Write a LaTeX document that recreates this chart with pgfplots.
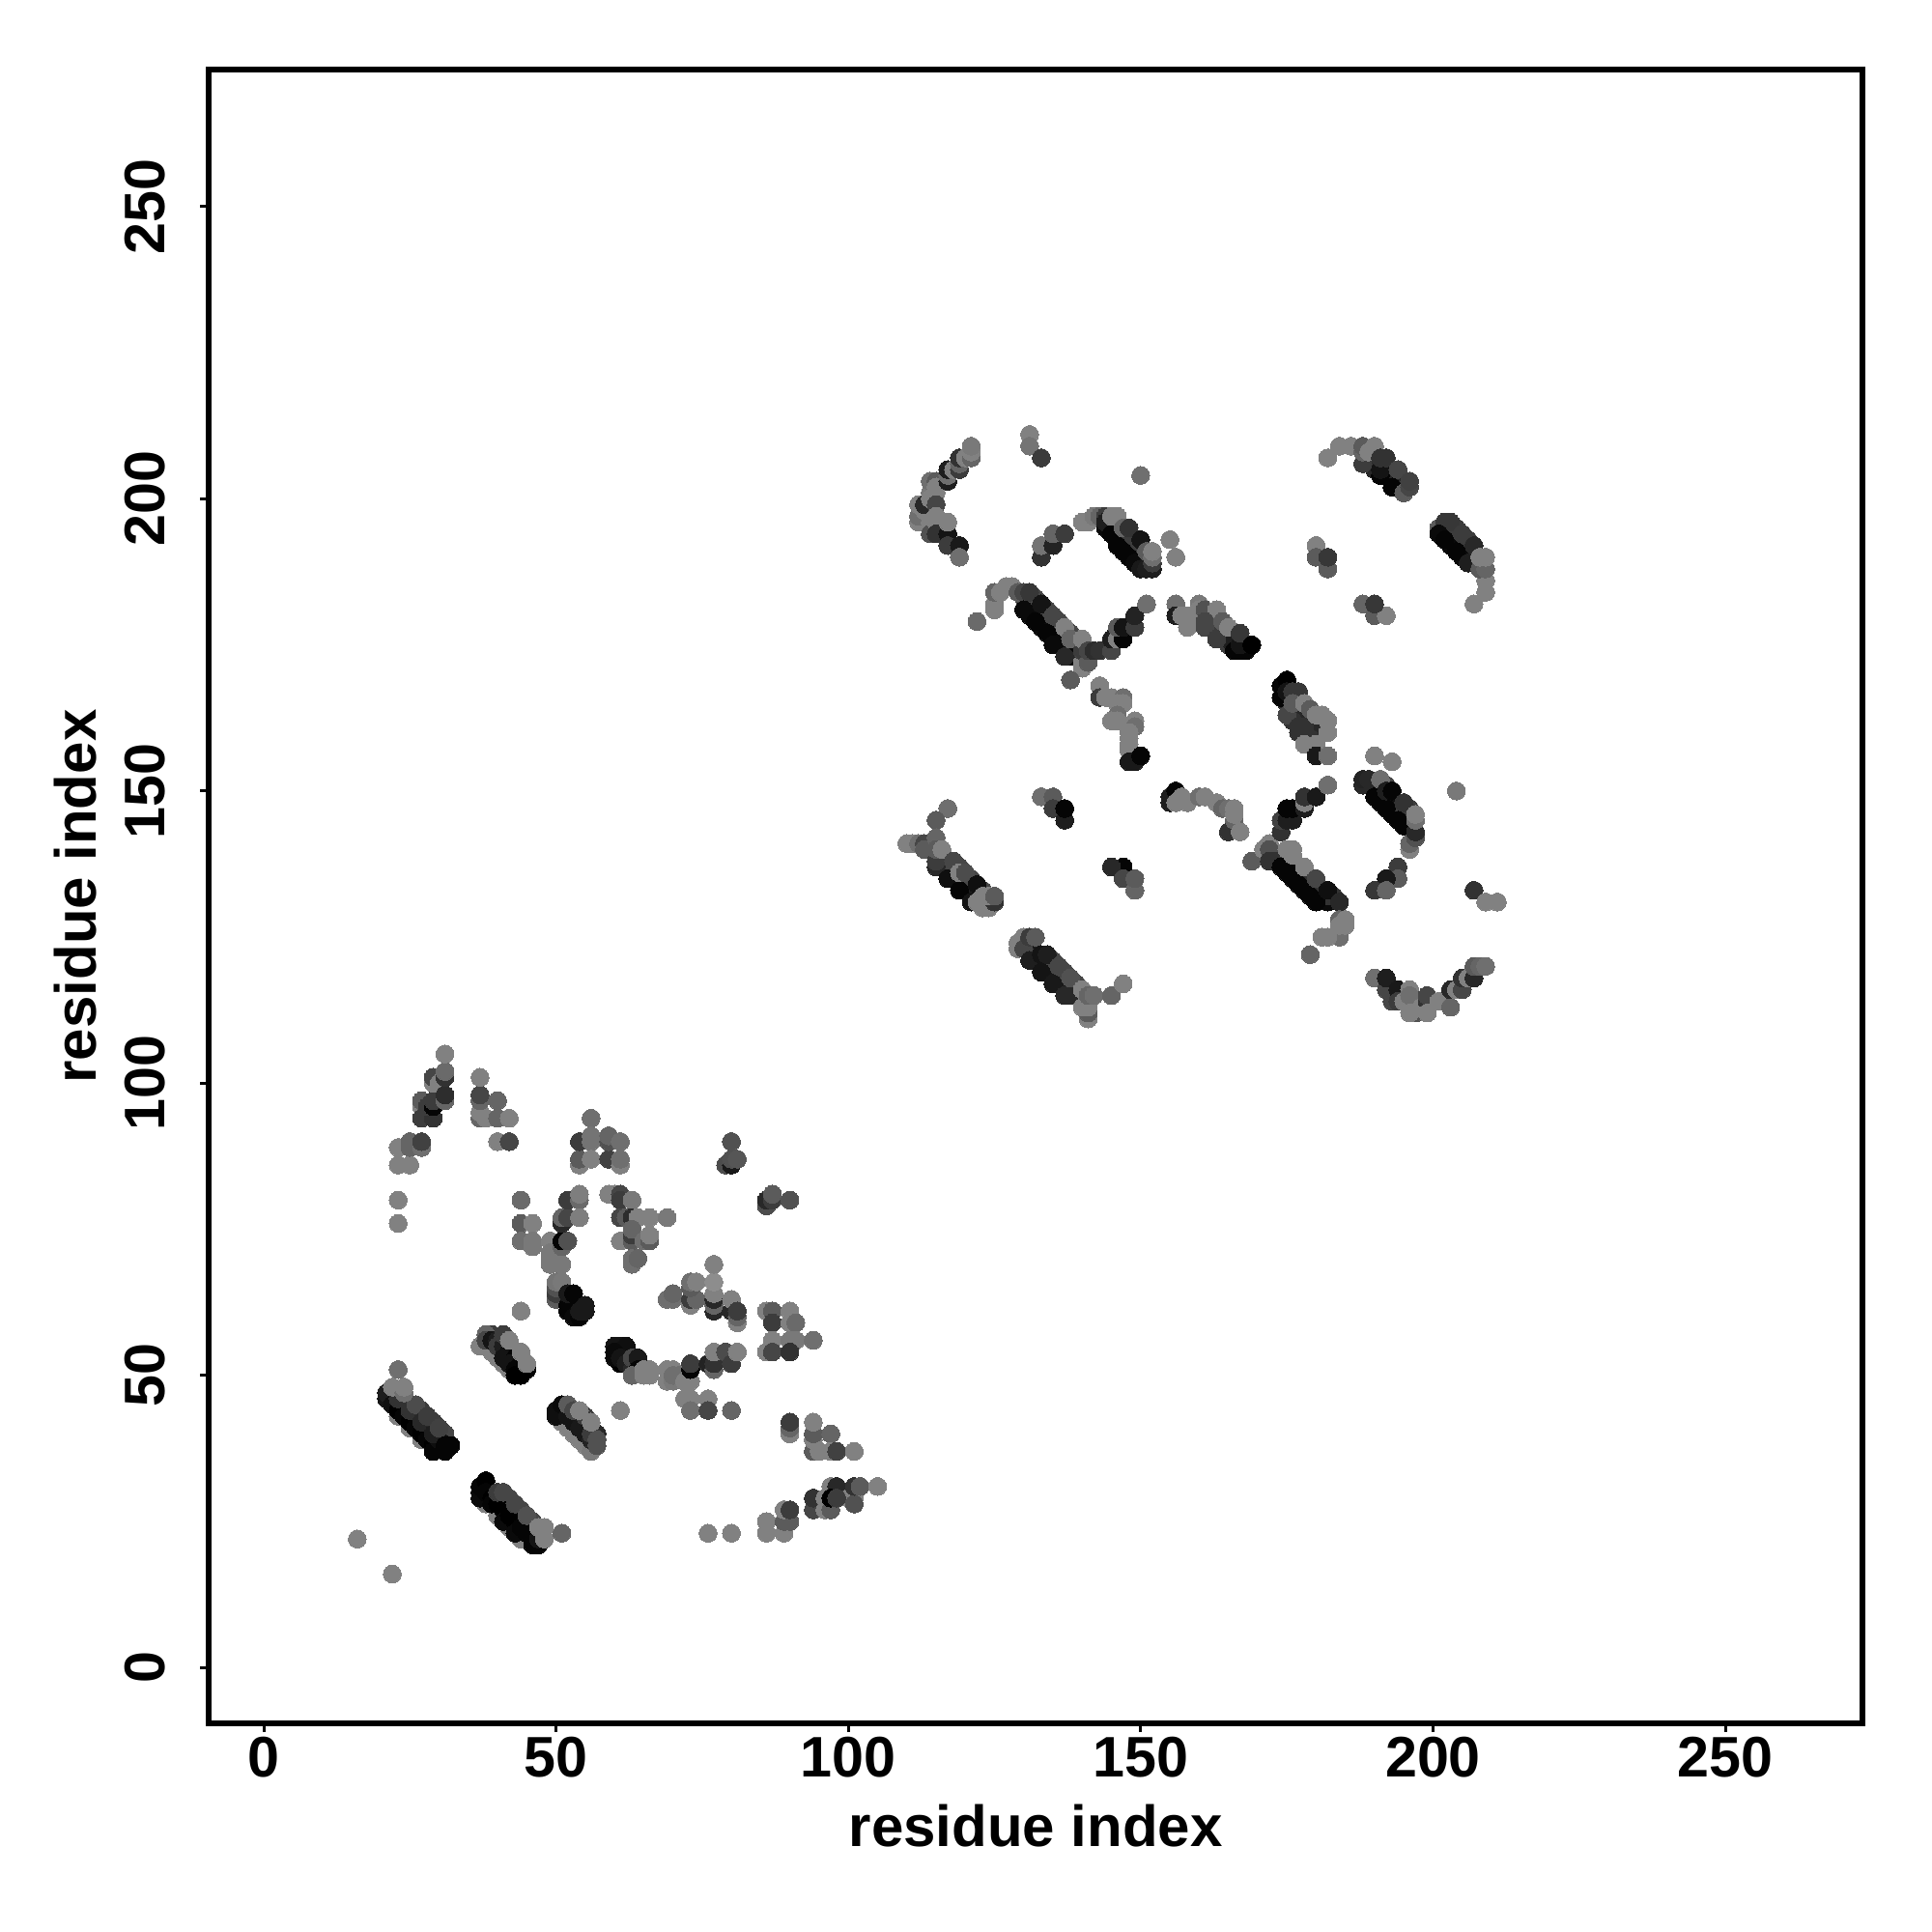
\documentclass[border=0pt]{standalone}
\usepackage{pgfplots}
\pgfplotsset{compat=1.18}
\usepackage{fontspec}
\setmainfont{Liberation Sans}

\begin{document}
\begin{tikzpicture}
% page is 2000 px square, 1 px = 0.25pt, origin at lower left of the frame
\useasboundingbox (-54.075pt,-54pt) rectangle (445.925pt,446pt);
\begin{axis}[
    scale only axis,
    width=428pt, height=428pt,
    xmin=-9.37, xmax=273.5,
    ymin=-9.54, ymax=273.45,
    xtick={0,50,100,150,200,250},
    ytick={0,50,100,150,200,250},
    xtick pos=bottom, ytick pos=left,
    tick align=outside,
    major tick length=2.3pt,
    tick style={black, line width=0.75pt},
    axis line style={line width=1.55pt},
    every tick label/.append style={font=\fontsize{14.8}{18}\selectfont\bfseries},
    /pgf/number format/assume math mode=true,
    xticklabel style={anchor=base, yshift=-11.45pt},
    yticklabel style={xshift=-9.1pt, rotate=90, anchor=base},
    xlabel={residue index},
    ylabel={residue index},
    label style={font=\fontsize{15}{18}\selectfont\bfseries},
    xlabel style={at={(axis description cs:0.5,-0.0742)}, anchor=base},
    ylabel style={at={(axis description cs:-0.0682,0.5)}, anchor=base},
    colormap/blackwhite,
    point meta min=0, point meta max=255,
]
% x y gray, in drawing order
\addplot[scatter, only marks, mark=*, mark size=2.32pt,
    point meta=explicit,
    mark options={line width=0pt},
    scatter/use mapped color={draw=mapped color, fill=mapped color}]
  table[row sep=crcr, x=x, y=y, meta=g] {
x y g\\
22 46 40\\ 23 45 40\\ 24 45 40\\ 24 44 30\\ 25 43 30\\ 26 43 40\\ 26 42 30\\ 27 41 30\\ 28 42 40\\ 28 41 30\\ 29 39 20\\ 30 40 40\\ 29 41 50\\ 27 44 60\\ 29 42 60\\ 31 40 70\\ 25 45 60\\
38 31 10\\ 39 30 10\\ 40 29 10\\ 41 28 10\\ 42 27 10\\ 43 26 10\\ 44 25 10\\ 45 24 10\\ 46 23 10\\ 42 29 70\\ 44 27 70\\ 46 25 70\\ 42 28 50\\ 44 26 50\\ 46 24 50\\
41 54 20\\ 42 53 20\\ 43 52 20\\ 44 51 20\\ 39 57 60\\ 42 55 60\\ 43 54 60\\
51 44 40\\ 52 44 40\\ 53 43 40\\ 54 42 40\\ 55 41 40\\ 56 40 40\\ 57 40 40\\ 51 43 30\\ 52 42 30\\ 53 41 30\\ 54 40 30\\ 55 39 30\\
131 123 30\\ 132 122 30\\ 133 121 30\\ 134 120 30\\ 135 119 30\\ 136 118 30\\ 137 117 30\\ 138 116 30\\ 131 122 25\\ 132 121 25\\ 133 120 25\\ 134 119 25\\ 135 118 25\\ 136 117 25\\ 137 116 25\\ 135 121 70\\ 137 119 70\\ 139 117 70\\
115 139 30\\ 116 137 30\\ 117 136 30\\ 118 135 30\\ 119 134 30\\ 120 133 30\\ 121 132 30\\ 122 132 30\\ 117 138 70\\ 119 137 70\\ 121 135 70\\ 123 133 70\\
131 182 10\\ 132 181 10\\ 133 180 10\\ 134 179 10\\ 135 178 10\\ 136 177 10\\ 137 176 10\\ 138 175 10\\ 139 174 10\\ 130 183 70\\ 132 183 70\\ 134 181 70\\ 136 179 70\\ 138 177 70\\ 139 176 70\\ 131 180 10\\ 133 178 10\\ 135 176 10\\ 136 175 10\\ 137 174 10\\ 138 173 10\\
145 195 10\\ 146 194 10\\ 147 193 10\\ 148 192 10\\ 149 191 10\\ 150 190 10\\ 151 189 10\\ 146 193 5\\ 147 192 5\\ 148 191 5\\ 149 190 5\\ 150 189 5\\ 146 196 60\\ 148 194 60\\ 150 192 60\\ 149 193 60\\
162 180 60\\ 163 179 60\\ 164 178 60\\ 165 177 60\\ 166 176 60\\ 167 176 60\\ 162 178 60\\ 163 177 60\\ 164 176 60\\ 165 175 60\\ 165 176 30\\
175 165 40\\ 176 164 40\\ 177 163 40\\ 178 162 40\\ 179 161 40\\ 180 160 40\\ 176 162 50\\ 178 161 50\\ 179 159 50\\ 177 160 50\\
175 138 10\\ 176 137 10\\ 177 136 10\\ 178 135 10\\ 179 134 10\\ 180 133 10\\ 181 132 10\\ 182 131 10\\ 176 139 50\\ 178 136 50\\ 180 134 50\\ 182 132 50\\ 183 132 50\\
190 151 15\\ 191 150 15\\ 192 149 15\\ 193 148 15\\ 194 147 15\\ 195 146 15\\ 196 145 15\\ 191 148 5\\ 193 146 5\\ 195 144 5\\ 196 147 60\\ 195 147 60\\ 192 151 70\\
189 206 40\\ 190 205 40\\ 192 204 40\\ 193 203 40\\ 194 202 40\\ 192 206 40\\ 193 205 40\\ 195 203 40\\ 192 205 40\\
202 195 40\\ 203 194 40\\ 204 193 40\\ 205 192 40\\ 206 191 40\\ 207 190 40\\ 203 192 10\\ 205 190 10\\ 204 195 60\\ 206 193 60\\
16 22 128\\ 22 16 128\\ 23 51 110\\
23 89 128\\ 23 86 128\\ 25 86 128\\ 25 90 100\\ 25 89 100\\ 27 89 110\\ 27 90 65\\ 23 80 128\\ 23 76 128\\
27 96 128\\ 27 97 90\\ 27 94 60\\ 29 94 50\\ 28 96 60\\ 29 96 5\\ 29 97 60\\ 29 100 128\\ 29 101 70\\ 30 100 128\\ 31 97 100\\ 31 98 45\\ 31 101 50\\ 31 102 105\\ 31 105 128\\
37 94 100\\ 37 95 128\\ 38 94 128\\ 37 97 100\\ 37 98 70\\ 37 101 128\\ 40 97 100\\ 40 94 100\\ 42 94 128\\ 40 90 128\\ 42 90 70\\
44 80 105\\ 44 76 90\\ 46 76 128\\ 44 73 110\\ 46 72 120\\ 46 73 120\\ 44 61 128\\
49 73 128\\ 49 71 120\\ 49 70 120\\ 50 70 120\\ 49 69 120\\ 51 69 120\\ 51 72 100\\ 51 73 5\\ 52 73 80\\ 51 76 40\\ 51 77 100\\ 52 77 70\\ 52 80 60\\ 54 80 105\\ 54 81 125\\ 54 77 125\\
50 63 90\\ 50 64 60\\ 50 65 80\\ 50 66 115\\ 51 66 120\\ 52 61 5\\ 52 62 5\\ 52 64 25\\ 53 64 5\\ 53 60 10\\ 54 60 5\\ 54 61 25\\ 55 61 25\\ 55 62 25\\
54 86 128\\ 54 87 90\\ 54 90 60\\ 56 94 110\\ 56 90 115\\ 56 91 115\\ 56 87 128\\ 59 87 65\\ 59 90 80\\ 59 91 100\\ 61 90 110\\ 61 86 128\\ 61 87 110\\
59 81 128\\ 60 81 128\\ 61 81 70\\ 61 80 60\\ 63 80 120\\
61 77 70\\ 62 77 90\\ 63 77 45\\ 64 77 128\\ 66 77 128\\ 69 77 120\\ 61 73 128\\ 63 73 90\\ 63 74 60\\ 63 75 100\\ 65 73 110\\ 66 73 90\\ 66 74 128\\ 63 69 110\\ 63 70 110\\ 64 70 100\\
69 63 110\\ 70 63 110\\ 70 64 100\\ 73 62 128\\ 73 63 60\\ 74 63 100\\ 73 65 90\\ 73 66 110\\ 74 66 128\\ 77 61 40\\ 77 62 100\\ 77 63 40\\ 77 64 128\\ 77 66 140\\ 77 69 128\\ 80 61 40\\ 80 63 128\\ 81 59 128\\ 81 60 100\\ 81 61 60\\
86 61 128\\ 87 61 90\\ 90 61 128\\ 87 59 60\\ 90 59 128\\ 91 59 105\\ 87 56 128\\ 90 56 120\\ 91 56 120\\ 94 56 110\\ 86 54 128\\ 87 54 70\\ 90 54 50\\
79 86 75\\ 80 86 25\\ 80 87 80\\ 81 87 85\\ 80 90 80\\ 86 79 75\\ 86 80 40\\ 87 80 60\\ 87 81 90\\ 90 80 80\\
37 55 128\\ 38 55 128\\ 39 54 128\\ 40 53 128\\ 41 52 128\\ 42 51 128\\ 38 57 100\\ 38 56 70\\ 39 56 20\\ 40 56 30\\ 40 55 60\\ 41 55 30\\ 41 57 60\\ 42 54 15\\ 41 53 20\\ 43 53 5\\ 42 52 20\\ 43 51 5\\ 44 52 5\\ 45 51 5\\ 43 50 0\\ 44 50 0\\ 42 56 128\\ 44 54 128\\ 45 52 128\\
60 55 20\\ 61 55 20\\ 62 55 15\\ 60 54 10\\ 61 52 0\\ 60 53 10\\ 61 53 20\\ 62 52 30\\ 63 51 40\\ 63 53 70\\ 64 53 25\\ 64 51 5\\ 63 50 100\\ 65 51 128\\ 66 51 128\\ 65 50 128\\ 66 50 128\\
69 51 128\\ 70 51 128\\ 69 49 128\\ 70 49 120\\ 70 50 110\\ 71 50 110\\ 72 49 128\\ 73 49 128\\ 73 51 5\\ 73 52 60\\ 76 52 35\\ 77 51 100\\ 77 52 50\\ 77 54 128\\ 79 54 75\\ 80 52 60\\ 81 54 128\\
72 46 128\\ 73 46 128\\ 76 46 128\\ 73 44 110\\ 76 44 70\\ 80 44 100\\ 61 44 128\\
90 40 128\\ 90 41 100\\ 90 42 60\\ 94 37 90\\ 95 37 128\\ 94 39 128\\ 94 40 90\\ 94 42 128\\ 97 40 100\\ 97 37 128\\ 98 37 65\\ 101 37 128\\
97 31 128\\ 98 31 40\\ 100 29 128\\ 101 29 128\\ 101 28 80\\ 101 31 50\\ 102 31 90\\ 105 31 128\\ 94 27 70\\ 94 29 50\\ 96 27 128\\ 96 29 128\\ 97 27 90\\ 97 29 0\\ 98 29 60\\
86 23 128\\ 89 23 128\\ 86 25 128\\ 89 25 90\\ 90 25 90\\ 89 27 128\\ 90 27 60\\ 76 23 128\\ 80 23 128\\
23 43 128\\ 25 41 128\\ 27 39 128\\ 29 37 128\\ 21 46 20\\ 21 47 30\\ 22 45 15\\ 23 44 0\\ 24 43 5\\ 25 42 0\\ 26 41 5\\ 27 40 0\\ 28 39 5\\ 29 38 0\\ 29 37 5\\ 30 38 5\\ 30 39 15\\ 23 46 50\\ 25 44 50\\ 27 42 40\\ 29 40 30\\ 26 45 75\\ 28 43 60\\ 30 41 65\\ 31 37 5\\ 31 38 5\\ 32 38 5\\ 22 48 128\\ 24 47 110\\ 24 48 128\\
38 28 128\\ 40 26 128\\ 42 24 128\\ 44 22 128\\ 37 29 10\\ 37 30 10\\ 37 31 5\\ 38 32 0\\ 38 30 5\\ 39 29 0\\ 39 28 5\\ 40 28 0\\ 41 27 0\\ 41 25 10\\ 42 26 0\\ 43 25 0\\ 43 23 10\\ 44 24 5\\ 45 23 5\\ 46 21 5\\ 47 21 5\\ 46 22 5\\ 47 22 20\\ 40 30 60\\ 41 30 70\\ 43 28 70\\ 45 26 80\\ 47 24 128\\ 48 24 128\\ 48 22 128\\ 51 23 100\\
51 42 128\\ 52 41 128\\ 53 40 128\\ 54 39 128\\ 55 38 128\\ 56 37 120\\ 50 43 15\\ 50 44 15\\ 51 45 10\\ 52 43 20\\ 53 42 20\\ 54 41 25\\ 55 40 25\\ 56 39 35\\ 52 45 90\\ 53 44 70\\ 55 43 60\\ 56 40 60\\ 57 38 80\\ 57 39 80\\ 54 44 128\\ 56 42 128\\
112 196 128\\ 112 197 110\\ 112 199 128\\ 113 198 128\\ 113 199 40\\ 114 196 128\\ 114 194 80\\ 114 201 120\\ 114 200 128\\ 114 203 110\\ 115 203 90\\ 115 202 128\\ 115 201 128\\ 115 199 70\\ 115 197 128\\ 115 196 128\\ 115 194 50\\ 117 194 20\\ 117 192 60\\ 117 196 128\\ 119 192 25\\ 119 190 110\\
117 203 30\\ 117 204 110\\ 117 205 30\\ 118 205 128\\ 119 205 60\\ 119 206 100\\ 119 207 50\\ 120 207 128\\ 121 207 100\\ 121 208 128\\ 121 209 120\\
131 211 128\\ 131 209 115\\ 133 207 60\\ 150 204 110\\
133 190 50\\ 133 192 115\\ 135 192 35\\ 135 194 100\\ 137 194 60\\
140 196 128\\ 141 196 128\\ 142 197 120\\ 143 197 100\\ 144 197 60\\ 144 195 10\\ 144 196 30\\ 145 194 5\\ 146 192 5\\ 147 191 5\\ 148 190 5\\ 149 189 10\\ 145 197 128\\ 146 197 128\\ 147 195 100\\ 148 195 50\\ 150 193 20\\ 150 188 25\\ 151 188 30\\ 152 188 30\\ 152 189 60\\ 151 191 90\\ 152 190 110\\ 152 191 128\\ 155 193 128\\ 156 190 128\\
125 181 128\\ 125 182 128\\ 125 184 100\\ 126 184 128\\ 127 185 128\\ 128 185 128\\ 129 184 90\\ 130 184 70\\ 131 184 55\\ 130 181 10\\ 132 179 5\\ 133 182 20\\ 134 177 5\\ 135 175 10\\ 135 180 70\\ 137 173 40\\ 137 178 128\\ 138 176 100\\ 140 171 128\\ 140 172 128\\ 140 174 60\\ 140 176 128\\ 141 172 90\\ 141 174 70\\ 142 174 45\\ 143 174 50\\ 145 174 70\\ 145 176 30\\ 146 176 128\\ 147 176 5\\ 146 178 90\\ 147 178 20\\ 149 178 60\\ 149 180 35\\ 151 182 110\\ 122 179 105\\ 138 169 90\\
156 182 110\\ 156 180 30\\ 157 180 128\\ 158 180 128\\ 158 178 128\\ 159 180 128\\ 160 182 120\\ 160 181 128\\ 161 181 80\\ 163 181 128\\ 161 178 70\\ 161 179 70\\ 163 176 60\\ 164 179 90\\ 165 178 128\\ 166 174 5\\ 167 174 5\\ 168 174 5\\ 167 175 20\\ 167 177 55\\ 169 175 0\\
182 207 128\\ 184 209 128\\ 186 209 128\\ 188 206 60\\ 188 208 100\\ 188 209 90\\ 189 208 128\\ 190 209 128\\ 191 204 5\\ 191 205 20\\ 191 207 50\\ 192 207 50\\ 193 202 5\\ 194 205 70\\ 195 201 90\\ 196 202 70\\ 196 203 65\\
180 192 128\\ 180 190 90\\ 182 188 90\\ 182 190 55\\ 188 182 100\\ 190 180 90\\ 192 180 128\\ 190 182 55\\
201 195 90\\ 202 196 55\\ 203 196 55\\ 201 194 10\\ 202 193 5\\ 204 191 5\\ 205 194 60\\ 206 189 30\\ 207 192 40\\ 209 184 128\\ 209 186 128\\ 207 182 128\\ 208 188 90\\ 209 188 100\\ 208 190 128\\ 209 190 128\\
143 168 128\\ 143 166 60\\ 144 166 128\\ 145 166 128\\ 147 166 110\\ 146 165 128\\ 147 165 128\\ 146 163 110\\ 145 162 128\\ 146 162 128\\ 149 162 128\\ 149 161 110\\ 148 160 128\\ 148 159 128\\ 148 158 128\\ 148 157 128\\ 148 155 25\\ 149 155 25\\ 150 156 5\\
133 149 110\\ 135 149 90\\ 135 147 60\\ 137 145 30\\ 137 147 5\\
117 147 110\\ 115 145 90\\ 110 141 128\\ 111 141 128\\ 112 141 110\\ 113 141 70\\ 113 140 90\\ 115 142 100\\ 115 137 40\\ 115 138 60\\ 115 140 90\\ 116 140 128\\ 117 135 15\\ 118 138 70\\ 119 133 5\\ 119 136 128\\ 120 136 75\\ 121 131 20\\ 122 134 15\\ 122 131 128\\ 123 130 128\\ 124 130 128\\ 125 131 50\\ 123 132 128\\ 124 132 128\\ 125 132 90\\
129 123 128\\ 129 124 128\\ 130 125 128\\ 130 123 70\\ 131 125 60\\ 132 125 90\\ 131 121 30\\ 133 119 20\\ 133 122 20\\ 134 122 30\\ 135 117 25\\ 136 120 70\\ 137 115 40\\ 138 115 40\\ 138 118 80\\ 140 116 128\\ 141 111 128\\ 141 112 90\\ 140 113 128\\ 141 113 128\\ 141 115 100\\ 142 115 110\\ 145 115 100\\ 147 117 128\\
147 137 5\\ 145 137 40\\ 147 135 70\\ 149 133 100\\ 149 135 90\\
155 148 30\\ 155 149 30\\ 156 150 5\\ 156 148 128\\ 157 149 128\\ 158 148 128\\ 160 149 110\\ 161 149 128\\ 163 148 128\\ 164 147 100\\ 165 147 110\\ 166 147 128\\ 165 143 50\\ 166 145 100\\ 166 146 128\\ 167 143 128\\
174 166 5\\ 174 168 5\\ 175 169 0\\ 175 167 20\\ 176 167 55\\ 177 167 55\\ 175 163 70\\ 177 161 50\\ 176 165 90\\ 178 165 128\\ 178 160 50\\ 179 164 90\\ 180 163 128\\ 181 163 128\\ 178 158 128\\ 180 158 128\\ 180 157 128\\ 180 156 25\\ 182 160 128\\ 182 162 128\\ 182 156 110\\ 182 151 110\\
169 138 90\\ 171 140 128\\ 172 141 128\\ 172 140 80\\ 172 138 50\\ 173 138 50\\ 174 137 5\\ 175 136 5\\ 176 135 5\\ 177 134 5\\ 178 133 5\\ 179 132 5\\ 180 131 5\\ 174 143 50\\ 174 145 65\\ 175 145 30\\ 176 145 30\\ 175 147 5\\ 176 147 5\\ 178 147 30\\ 178 148 128\\ 178 149 50\\ 180 149 25\\ 182 151 110\\ 175 140 128\\ 176 140 128\\ 176 139 128\\ 178 137 128\\ 180 135 70\\ 182 133 15\\ 184 131 40\\ 184 125 110\\ 181 125 128\\ 182 125 128\\ 179 122 100\\ 184 128 100\\ 185 128 128\\ 185 127 128\\ 184 127 128\\
190 156 128\\ 193 155 128\\ 188 151 40\\ 188 152 35\\ 189 152 40\\ 190 149 5\\ 191 152 110\\ 192 147 5\\ 192 150 30\\ 193 150 5\\ 194 145 5\\ 195 148 50\\ 196 140 128\\ 196 141 100\\ 197 142 80\\ 197 143 40\\ 197 145 110\\ 197 146 128\\ 194 137 60\\ 194 135 90\\ 192 135 25\\ 190 133 55\\ 192 133 100\\ 204 150 120\\ 207 133 50\\ 209 131 128\\ 211 131 128\\
190 118 110\\ 192 116 70\\ 192 118 30\\ 193 114 70\\ 194 116 25\\ 194 114 60\\ 195 114 128\\ 196 116 128\\ 196 115 110\\ 197 112 80\\ 196 112 128\\ 198 113 128\\ 199 114 50\\ 199 115 70\\ 199 112 128\\ 201 114 128\\ 203 113 100\\ 203 116 40\\ 204 116 128\\ 205 116 70\\ 205 118 50\\ 206 118 128\\ 207 118 40\\ 207 120 90\\ 208 120 100\\ 209 120 110\\
};
\end{axis}
\end{tikzpicture}
\end{document}
